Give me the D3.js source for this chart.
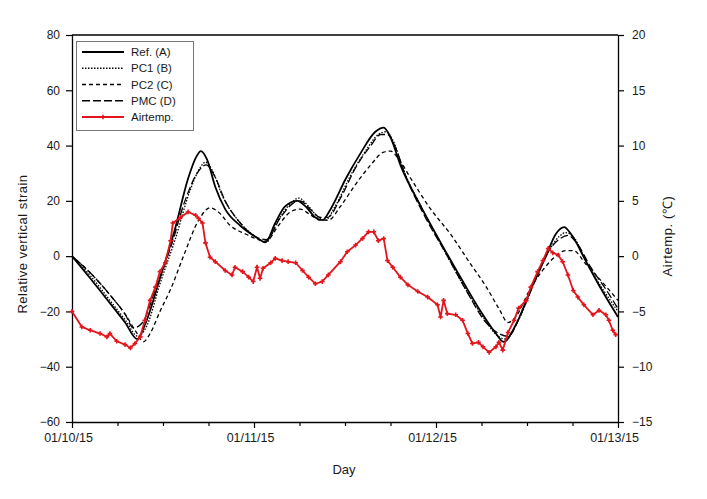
<!DOCTYPE html>
<html>
<head>
<meta charset="utf-8">
<script src="https://cdn.jsdelivr.net/npm/d3@7"></script>
<style>
  html, body { margin: 0; padding: 0; background: #fff; }
  svg text { font-family: "Liberation Sans", Arial, sans-serif; fill: #1a1a1a; }
</style>
</head>
<body>
<svg id="chart" width="707" height="499"></svg>
<script>
// ---- data (hours since 01/10/15 00:00) ----
const dayLabels = ["01/10/15", "01/11/15", "01/12/15", "01/13/15"];
const leftTicks = [80, 60, 40, 20, 0, -20, -40, -60];
const rightTicks = [20, 15, 10, 5, 0, -5, -10, -15];

const refHours = [0, 2.4, 5.0, 7.0, 8.6, 9.6, 11.6, 13.6, 15.3, 16.4, 17.0, 17.8, 18.9, 20.2, 22.2, 24.2, 25.5, 26.8, 28.1, 29.7, 30.8, 32.1, 33.0, 34.1, 36.1, 38.0, 40.0, 41.1, 42.0, 43.3, 46.0, 48.6, 51.3, 53.9, 55.9, 56.9, 58.5, 60.5, 62.5, 63.8, 64.9, 65.8, 67.8, 69.8, 72.0];
const refVals = [0, -8, -17, -24, -30, -25, -8, 10, 28, 36, 38, 35, 25, 17, 11, 7, 5, 12, 18, 20, 18, 14, 13, 17, 28, 37, 45, 46.5, 43, 33, 18, 5, -8, -20, -28, -31, -25, -12, 0, 8, 10.5, 8, -2, -12, -22];

const pc1Hours = [0, 2.4, 5.0, 7.0, 8.7, 9.9, 11.6, 13.6, 15.6, 16.9, 17.6, 18.5, 19.8, 22.2, 24.2, 25.6, 27.2, 28.8, 29.9, 31.2, 32.5, 33.4, 34.7, 36.7, 38.7, 40.4, 41.4, 42.3, 43.6, 46.2, 48.9, 51.5, 54.2, 56.2, 57.2, 58.9, 60.9, 62.9, 64.2, 65.1, 66.1, 68.0, 70.0, 72.0];
const pc1Vals = [0, -7, -16, -23, -29, -25, -10, 6, 24, 32, 34, 31, 22, 12, 7, 5, 13, 19, 21, 18, 14, 13, 18, 29, 38, 44, 45, 42, 32, 17, 3, -10, -22, -29, -30, -23, -10, 2, 7, 8.5, 7, -3, -12, -20];

const pc2Hours = [0, 2.4, 5.0, 7.0, 8.6, 9.4, 10.3, 11.6, 13.0, 14.7, 16.7, 18.2, 19.3, 20.9, 22.9, 24.6, 25.6, 27.2, 28.8, 30.1, 31.4, 32.8, 33.8, 35.4, 37.4, 39.4, 41.0, 42.0, 43.1, 44.7, 47.3, 49.9, 52.6, 54.6, 56.3, 57.5, 58.5, 60.2, 62.1, 63.8, 65.1, 66.1, 67.8, 69.8, 72.0];
const pc2Vals = [0, -6, -14, -21, -28, -31, -28, -20, -12, 0, 13, 17.5, 16, 11, 8, 6, 5.5, 11, 16, 17, 15, 13, 13, 18, 26, 33, 37.5, 38, 35, 28, 17, 8, -3, -11, -19, -24, -22, -13, -5, 0, 2, 2, -3, -9, -16];

const pmcHours = [0, 2.4, 5.0, 7.0, 8.1, 9.3, 11.0, 13.0, 14.9, 16.5, 17.7, 18.8, 20.2, 22.2, 24.2, 25.6, 27.5, 29.1, 30.1, 31.4, 32.8, 33.7, 35.4, 37.4, 39.4, 40.7, 41.6, 42.7, 44.0, 46.6, 49.3, 51.9, 54.6, 56.3, 57.5, 59.2, 61.2, 62.9, 64.2, 65.4, 66.5, 68.4, 70.4, 72.0];
const pmcVals = [0, -6, -14, -21, -26, -24, -12, 3, 20, 30, 33, 29, 20, 12, 7, 6, 14, 19, 20, 17, 14, 14, 21, 32, 40, 44, 44, 39, 29, 14, 1, -12, -24, -28, -29, -21, -8, 2, 6, 7.5, 5, -4, -12, -19];

const airHours = [0, 1.3, 2.4, 3.7, 4.6, 5.0, 5.9, 7.0, 7.7, 8.3, 9.0, 9.6, 10.3, 11.0, 11.6, 12.3, 13.0, 13.3, 14.3, 15.3, 16.3, 16.7, 17.2, 17.6, 18.2, 18.9, 20.2, 21.1, 21.5, 22.5, 23.3, 23.9, 24.4, 24.8, 25.2, 26.2, 26.8, 27.7, 28.5, 29.5, 30.4, 31.2, 32.1, 33.0, 33.8, 35.4, 36.3, 37.4, 38.3, 39.1, 39.8, 40.4, 41.1, 41.6, 42.3, 43.3, 44.3, 45.6, 46.9, 48.2, 48.6, 49.0, 49.5, 50.6, 51.5, 52.2, 52.8, 53.6, 54.2, 55.0, 55.9, 56.3, 56.8, 57.5, 58.3, 58.9, 59.9, 60.5, 61.4, 62.1, 62.8, 63.4, 64.1, 64.7, 65.4, 66.1, 66.7, 67.5, 68.7, 69.5, 70.4, 70.8, 71.3, 71.7];
const airVals = [-5.0, -6.4, -6.7, -7.0, -7.3, -7.0, -7.7, -8.0, -8.3, -7.9, -7.3, -5.8, -4.0, -2.8, -1.4, -0.6, 1.4, 3.0, 3.5, 4.0, 3.7, 3.4, 3.0, 1.2, -0.1, -0.5, -1.3, -1.7, -1.0, -1.4, -1.9, -2.3, -1.0, -2.0, -1.1, -0.6, -0.2, -0.4, -0.5, -0.6, -1.3, -1.9, -2.5, -2.3, -1.7, -0.5, 0.4, 1.0, 1.6, 2.2, 2.2, 1.4, 1.6, -0.4, -1.0, -1.9, -2.6, -3.2, -3.7, -4.4, -5.5, -4.0, -5.2, -5.3, -5.8, -7.0, -7.9, -7.8, -8.2, -8.7, -8.2, -7.8, -8.5, -6.9, -5.8, -4.7, -4.0, -2.8, -1.4, -0.4, 0.7, 0.3, 0.1, -0.5, -1.7, -3.1, -3.7, -4.4, -5.3, -4.9, -5.3, -5.8, -6.7, -7.1];

const legendNames = ["Ref. (A)", "PC1 (B)", "PC2 (C)", "PMC (D)", "Airtemp."];

// ---- layout ----
const svg = d3.select("#chart");
const L = 72, R = 618, T = 35, B = 422;

const x = d3.scaleLinear().domain([0, 72]).range([L, R]);
const yL = d3.scaleLinear().domain([-60, 80]).range([B, T]);
const yR = d3.scaleLinear().domain([-15, 20]).range([B, T]);

// frame top
svg.append("line").attr("x1", L).attr("x2", R).attr("y1", T).attr("y2", T)
  .attr("stroke", "#000").attr("stroke-width", 1.3);

// x axis
const xAxis = d3.axisBottom(x).tickValues([0, 24, 48, 72])
  .tickFormat((d, i) => dayLabels[i]).tickSize(6).tickPadding(5);
const gx = svg.append("g").attr("transform", `translate(0,${B})`).call(xAxis);
const gxm = svg.append("g").attr("transform", `translate(0,${B})`)
  .call(d3.axisBottom(x).tickValues(d3.range(6, 72, 6).filter(h => h % 24 !== 0)).tickSize(4).tickFormat(""));
gxm.select(".domain").remove();

// left axis
const gl = svg.append("g").attr("transform", `translate(${L},0)`)
  .call(d3.axisLeft(yL).tickValues(leftTicks).tickSize(6).tickPadding(6));
// right axis
const gr = svg.append("g").attr("transform", `translate(${R},0)`)
  .call(d3.axisRight(yR).tickValues(rightTicks).tickSize(6).tickPadding(8));

[gx, gxm, gl, gr].forEach(g => {
  g.selectAll(".domain").attr("stroke", "#000").attr("stroke-width", 1.3);
  g.selectAll(".tick line").attr("stroke", "#000").attr("stroke-width", 1.2);
  g.selectAll(".tick text").attr("font-size", 12).attr("fill", "#1a1a1a")
    .attr("font-family", '"Liberation Sans", Arial, sans-serif');
});
gx.selectAll(".tick text").attr("dx", -4).attr("font-size", 12.5);
gl.selectAll(".domain").attr("d", `M0.5,${B}V${T}`);
gr.selectAll(".domain").attr("d", `M0.5,${B}V${T}`);
gx.selectAll(".domain").attr("d", `M${L},0.5H${R}`);

// axis titles
svg.append("text").attr("transform", `translate(27,${244}) rotate(-90)`)
  .attr("text-anchor", "middle").attr("font-size", 13).attr("letter-spacing", 0.5)
  .text("Relative vertical strain");
svg.append("text").attr("x", 344).attr("y", 474).attr("text-anchor", "middle")
  .attr("font-size", 13).text("Day");
svg.append("text").attr("transform", `translate(672,${236}) rotate(-90)`)
  .attr("text-anchor", "middle").attr("font-size", 13).attr("letter-spacing", 0.6)
  .text("Airtemp. (℃)");

// series
const line = (hrs, vals, ys) => d3.line().curve(d3.curveMonotoneX)
  .x((d, i) => x(hrs[i])).y(d => ys(d))(vals);

const series = [
  { h: refHours, v: refVals, dash: null, w: 1.8 },
  { h: pc1Hours, v: pc1Vals, dash: "1.5,1.5", w: 1.3 },
  { h: pc2Hours, v: pc2Vals, dash: "4,3", w: 1.3 },
  { h: pmcHours, v: pmcVals, dash: "8,3", w: 1.3 }
];
series.forEach(s => {
  svg.append("path").attr("d", line(s.h, s.v, yL)).attr("fill", "none")
    .attr("stroke", "#000").attr("stroke-width", s.w)
    .attr("stroke-dasharray", s.dash);
});

// air temp
const red = "#e3141b";
svg.append("path").attr("d", d3.line().x((d, i) => x(airHours[i])).y(d => yR(d))(airVals))
  .attr("fill", "none").attr("stroke", red).attr("stroke-width", 1.8);
svg.append("g").selectAll("path").data(airVals).join("path")
  .attr("transform", (d, i) => `translate(${x(airHours[i])},${yR(d)})`)
  .attr("d", d3.symbol(d3.symbolCross, 12)).attr("fill", red);

// legend
const lg = svg.append("g");
lg.append("rect").attr("x", 76.5).attr("y", 41.5).attr("width", 117).attr("height", 89)
  .attr("fill", "#fff").attr("stroke", "#777").attr("stroke-width", 1);
const ly = d3.scalePoint().domain(legendNames).range([52, 117]);
const styles = [
  { dash: null, w: 1.8, c: "#000" },
  { dash: "1.5,1.5", w: 1.3, c: "#000" },
  { dash: "4,3", w: 1.3, c: "#000" },
  { dash: "8,3", w: 1.3, c: "#000" },
  { dash: null, w: 1.8, c: red }
];
legendNames.forEach((n, i) => {
  const yy = ly(n);
  lg.append("line").attr("x1", 82).attr("x2", 124).attr("y1", yy).attr("y2", yy)
    .attr("stroke", styles[i].c).attr("stroke-width", styles[i].w)
    .attr("stroke-dasharray", styles[i].dash);
  if (i === 4) {
    lg.append("path").attr("transform", `translate(103,${yy})`)
      .attr("d", d3.symbol(d3.symbolCross, 12)).attr("fill", red);
  }
  lg.append("text").attr("x", 131).attr("y", yy + 4).attr("font-size", 11.5).text(n);
});
</script>
</body>
</html>
